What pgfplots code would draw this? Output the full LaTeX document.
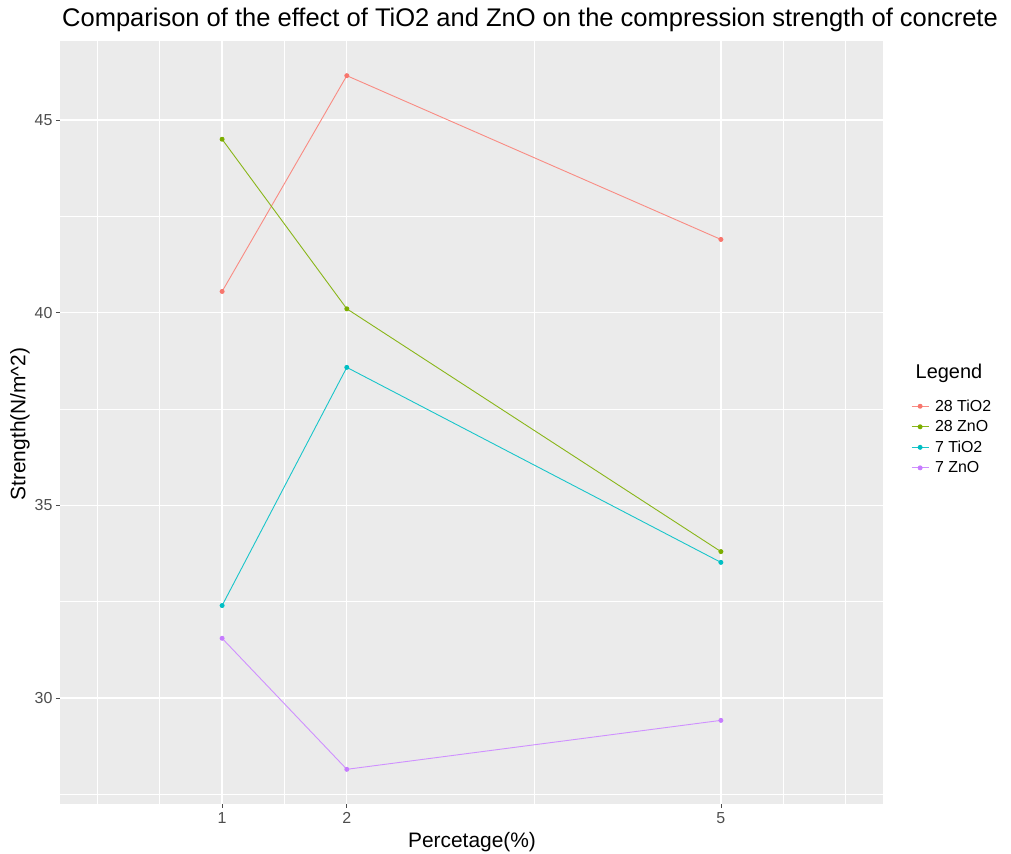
\documentclass[border=0pt]{standalone}
\usepackage{pgfplots}
\pgfplotsset{compat=1.18}
\usepackage{fontspec}
\setmainfont{Liberation Sans}

\definecolor{panelgray}{HTML}{EBEBEB}
\definecolor{tickgray}{HTML}{4D4D4D}
\definecolor{tiotwo28}{HTML}{F8766D}
\definecolor{zno28}{HTML}{7CAE00}
\definecolor{tiotwo7}{HTML}{00BFC4}
\definecolor{zno7}{HTML}{C77CFF}

\begin{document}
\begin{tikzpicture}[x=1bp,y=1bp]
\useasboundingbox (0,0) rectangle (1011,854);
\begin{axis}[
  at={(60bp,50bp)}, anchor=south west,
  scale only axis, width=823bp, height=763bp,
  xmin=-0.3, xmax=6.3, ymin=27.25, ymax=47.05,
  axis background/.style={fill=panelgray},
  axis line style={draw=none},
  xtick={1,2,5}, ytick={30,35,40,45},
  minor xtick={0,0.5,1.5,3.5,5.5,6},
  minor ytick={27.5,32.5,37.5,42.5},
  grid=both,
  major grid style={white, line width=1.3bp},
  minor grid style={white, line width=0.6bp},
  tick align=outside, major tick length=4bp, minor tick length=0bp,
  xtick pos=bottom, ytick pos=left,
  major tick style={color=black!70, line width=0.7bp},
  /pgf/number format/assume math mode=true,
  ticklabel style={font=\fontsize{16}{18}\selectfont, text=tickgray},
  xticklabel style={yshift=-1bp},
  every axis plot/.append style={line width=0.9bp, mark=*, mark size=2bp},
  legend style={at={(1.034,0.5327)}, anchor=north west, draw=none, fill=none,
    font=\fontsize{16}{18}\selectfont, row sep=3.7bp, column sep=4bp,
    inner sep=0pt, nodes={inner sep=2bp},
    legend cell align=left},
  legend image code/.code={
    \draw[mark repeat=2, mark phase=2] plot coordinates {(0bp,0bp) (8.5bp,0bp) (17bp,0bp)};},
  clip=false,
]
% 28-day strength, TiO2
\addplot[color=tiotwo28!85!white, mark options={fill=tiotwo28, draw=tiotwo28}] coordinates {(1,40.55) (2,46.15) (5,41.9)};
\addlegendentry{28 TiO2}
% 28-day strength, ZnO
\addplot[color=zno28!90!white, mark options={fill=zno28, draw=zno28}] coordinates {(1,44.5) (2,40.1) (5,33.8)};
\addlegendentry{28 ZnO}
% 7-day strength, TiO2
\addplot[color=tiotwo7!90!white, mark options={fill=tiotwo7, draw=tiotwo7}] coordinates {(1,32.4) (2,38.58) (5,33.52)};
\addlegendentry{7 TiO2}
% 7-day strength, ZnO
\addplot[color=zno7!85!white, mark options={fill=zno7, draw=zno7}] coordinates {(1,31.55) (2,28.15) (5,29.42)};
\addlegendentry{7 ZnO}

\node[anchor=west, font=\fontsize{20}{22}\selectfont, inner sep=0pt] at (rel axis cs:1.0395,0.565) {Legend};
\end{axis}
% titles
\node[anchor=base west, font=\fontsize{25.6}{28}\selectfont, inner sep=0pt] at (62,827) {Comparison of the effect of TiO2 and ZnO on the compression strength of concrete};
\node[rotate=90, font=\fontsize{21}{24}\selectfont, inner sep=0pt] at (20,430) {Strength(N/m\textasciicircum 2)};
\node[font=\fontsize{21}{24}\selectfont, inner sep=0pt] at (472,12) {Percetage(\%)};
\end{tikzpicture}
\end{document}
